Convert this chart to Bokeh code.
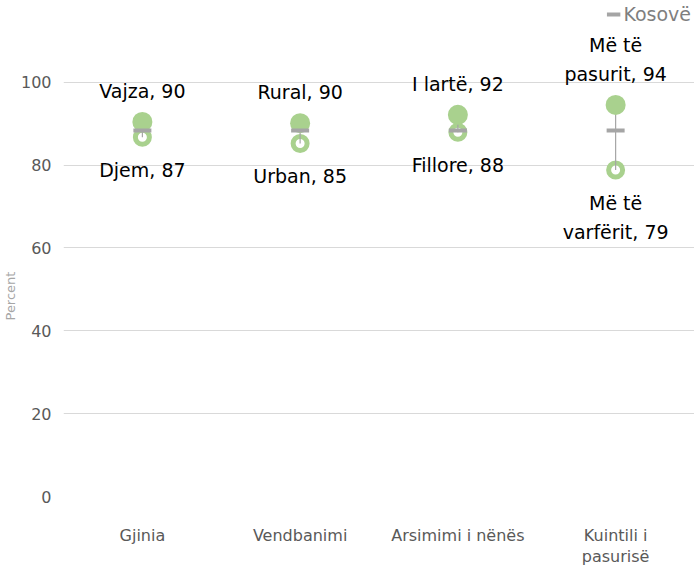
from bokeh.plotting import figure
from bokeh.models import (ColumnDataSource, FactorRange, Range1d, Legend, LegendItem,
                          FixedTicker, Title)
from bokeh.core.properties import value
from bokeh.embed import file_html
from bokeh.resources import INLINE

categories = ["Gjinia", "Vendbanimi", "Arsimimi i nënës", "Kuintili i\npasurisë"]
high_vals = [90.4, 90.1, 92.1, 94.5]
low_vals = [86.7, 85.2, 87.9, 78.8]
kosove_vals = [88.3, 88.3, 88.3, 88.3]
high_labels = ["Vajza, 90", "Rural, 90", "I lartë, 92", "Më të\npasurit, 94"]
low_labels = ["Djem, 87", "Urban, 85", "Fillore, 88", "Më të\nvarfërit, 79"]
y_ticks = [0, 20, 40, 60, 80, 100]

FONT = "DejaVu Sans"

src = ColumnDataSource(dict(cat=categories, hi=high_vals, lo=low_vals, kos=kosove_vals,
                            hl=high_labels, ll=low_labels))

p = figure(width=694, height=569, x_range=FactorRange(*categories, range_padding=0),
           y_range=Range1d(0, 119.7), output_backend="svg", toolbar_location=None,
           min_border_left=63, min_border_right=0, min_border_top=0, min_border_bottom=71)
p.outline_line_color = None
p.xgrid.grid_line_color = None
p.ygrid.grid_line_color = "#d9d9d9"
p.ygrid.grid_line_width = 1
p.yaxis.ticker = FixedTicker(ticks=y_ticks)

for ax in (p.xaxis[0], p.yaxis[0]):
    ax.axis_line_color = None
    ax.major_tick_line_color = None
    ax.minor_tick_line_color = None
    ax.major_tick_out = 0
    ax.major_tick_in = 0
    ax.minor_tick_out = 0
    ax.major_label_text_color = "#595959"
    ax.major_label_text_font = FONT
    ax.major_label_text_font_size = "16px"

p.yaxis.major_label_standoff = 12
p.xaxis.major_label_standoff = 29
p.xaxis.major_label_text_line_height = 1.15

p.add_layout(Title(text="Percent", align="left", offset=176, standoff=0,
                   text_font=FONT, text_font_size="13px", text_font_style="normal",
                   text_color="#a6a6a6"), "left")

green = "#a9d18e"
grey = "#a5a5a5"

p.scatter(x="cat", y="lo", source=src, size=14, fill_color="white", line_color=green, line_width=5)
p.segment(x0="cat", y0="lo", x1="cat", y1="hi", source=src, line_color=grey, line_width=1.2)
p.scatter(x="cat", y="hi", source=src, size=20, fill_color=green, line_color=green, line_width=0)
p.scatter(x="cat", y="kos", source=src, marker="dash", size=18, line_color=grey, line_width=4)
leg_src = ColumnDataSource(dict(cat=categories[:1], kos=kosove_vals[:1]))
leg_r = p.line(x="cat", y="kos", source=leg_src, line_color=grey, line_width=4)

p.text(x="cat", y="hi", text="hl", source=src, text_align="center", text_baseline="bottom",
       y_offset=-20, text_font=value(FONT), text_font_size="19px", text_color="black",
       text_line_height=1.3)
p.text(x="cat", y="lo", text="ll", source=src, text_align="center", text_baseline="top",
       y_offset=22, text_font=value(FONT), text_font_size="19px", text_color="black",
       text_line_height=1.3)

legend = Legend(items=[LegendItem(label="Kosovë", renderers=[leg_r])], location="top_right",
                background_fill_alpha=0, border_line_color=None, margin=3, padding=3,
                glyph_width=14, label_text_font=FONT, label_text_font_size="19px",
                label_text_color="#7f7f7f", label_standoff=3)
p.add_layout(legend)

open("out.html", "w").write(file_html(p, INLINE))
